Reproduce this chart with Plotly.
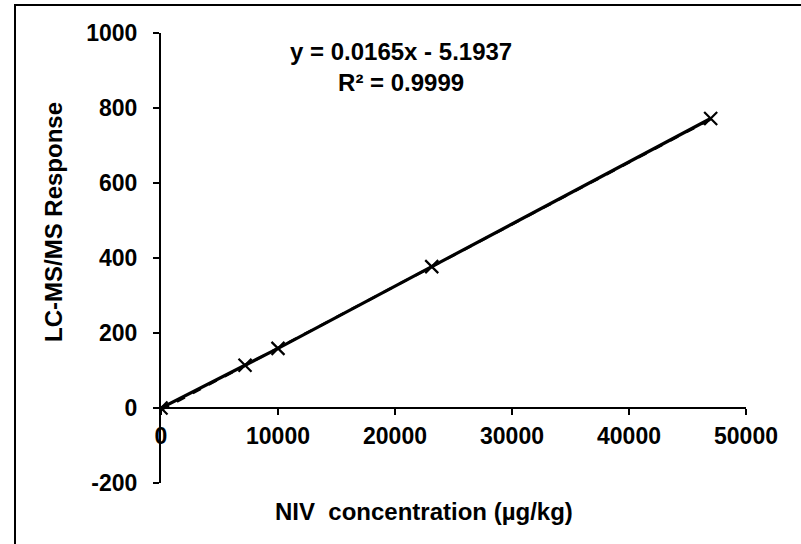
import numpy as np
import plotly.graph_objects as go

# Calibration standards
concentration = [0, 7180, 10000, 23140, 46980]   # NIV, µg/kg
response = [0, 114, 159, 377, 772]               # LC-MS/MS response

slope = 0.0165
intercept = -5.1937
r_squared = 0.9999

x_ticks = [0, 10000, 20000, 30000, 40000, 50000]
y_ticks = [-200, 0, 200, 400, 600, 800, 1000]

FONT = "Liberation Sans, Arial, sans-serif"
TICK_FS = 23
TEXT_FS = 24

fit_x = np.array([min(concentration), max(concentration)])
fit_y = slope * fit_x + intercept

fig = go.Figure()

# linear trendline (dashed)
fig.add_trace(go.Scatter(
    x=fit_x, y=fit_y, mode="lines",
    line=dict(color="black", width=2.5, dash="dash"),
    showlegend=False, hoverinfo="skip",
))

# measured standards
fig.add_trace(go.Scatter(
    x=concentration, y=response, mode="lines+markers",
    line=dict(color="black", width=3.2),
    marker=dict(symbol="x-thin", size=13, line=dict(color="black", width=2.2)),
    showlegend=False,
))

fig.update_layout(
    width=801, height=544,
    margin=dict(l=161, r=55, t=33, b=61),
    paper_bgcolor="white", plot_bgcolor="white",
    font=dict(family=FONT, size=TICK_FS, color="black"),
    xaxis=dict(
        range=[0, 50000], tickvals=x_ticks,
        ticktext=[str(v) for v in x_ticks],
        showgrid=False, zeroline=False,
        showline=True, linecolor="black", linewidth=2,
        ticks="outside", ticklen=6, tickwidth=2, tickcolor="black",
        anchor="free", position=200 / 1200,
        ticklabelstandoff=1,
        tickfont=dict(family=FONT, size=TICK_FS, color="black", weight="bold"),
    ),
    yaxis=dict(
        range=[-200, 1000], tickvals=y_ticks,
        ticktext=[str(v) for v in y_ticks],
        showgrid=False, zeroline=False,
        showline=True, linecolor="black", linewidth=2,
        ticks="outside", ticklen=6, tickwidth=2, tickcolor="black",
        ticklabelstandoff=11,
        tickfont=dict(family=FONT, size=TICK_FS, color="black", weight="bold"),
    ),
    shapes=[dict(
        type="rect", xref="paper", yref="paper",
        x0=-146 / 585, x1=1.2, y0=-0.2, y1=1 + 28 / 450,
        line=dict(color="black", width=2), fillcolor="rgba(0,0,0,0)",
        layer="below",
    )],
    annotations=[
        dict(
            text=f"<b>y = {slope}x - {abs(intercept)}<br>R² = {r_squared}</b>",
            xref="paper", yref="paper", x=240 / 585, y=1 - 34 / 450,
            xanchor="center", yanchor="middle", showarrow=False,
            font=dict(family=FONT, size=TEXT_FS, color="black"),
        ),
        dict(
            text="<b>NIV  concentration (µg/kg)</b>",
            xref="paper", yref="paper", x=263 / 585, y=-(511 - 483) / 450,
            xanchor="center", yanchor="middle", showarrow=False,
            font=dict(family=FONT, size=TEXT_FS, color="black"),
        ),
        dict(
            text="<b>LC-MS/MS Response</b>",
            xref="paper", yref="paper", x=-(161 - 53) / 585, y=(483 - 222) / 450,
            xanchor="center", yanchor="middle", showarrow=False, textangle=-90,
            font=dict(family=FONT, size=TEXT_FS, color="black"),
        ),
    ],
)

fig.write_html("out.html")
